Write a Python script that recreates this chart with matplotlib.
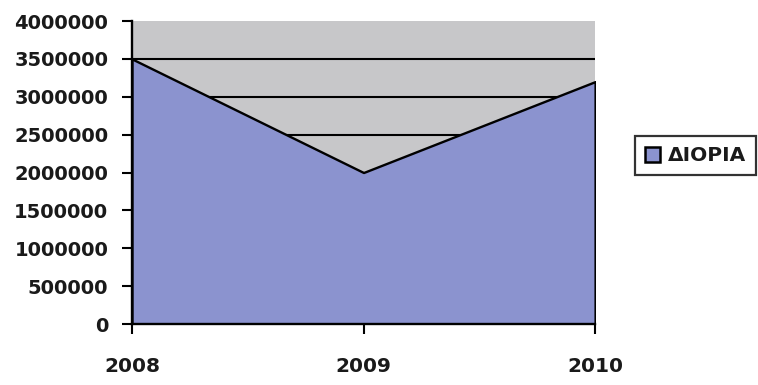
import matplotlib
matplotlib.use("Agg")
import matplotlib.pyplot as plt
from matplotlib.patches import Patch

# Series data
years = [2008, 2009, 2010]
dioria = [3500000, 2000000, 3200000]
series_name = "ΔΙΟΡΙΑ"
y_ticks = [0, 500000, 1000000, 1500000, 2000000, 2500000, 3000000, 3500000, 4000000]

area_color = "#8b93cf"
plot_bg = "#c7c7c9"

plt.rcParams["font.family"] = ["DejaVu Sans"]
plt.rcParams["font.weight"] = "bold"

fig = plt.figure(figsize=(7.58, 3.85), dpi=100)
fig.patch.set_facecolor("white")
ax = fig.add_axes([0.1741, 0.1584, 0.611, 0.787])
ax.set_facecolor(plot_bg)

# Horizontal gridlines (drawn beneath the area)
ax.hlines(y_ticks[1:-1], years[0], years[-1], colors="black", linewidth=1.5, zorder=1)

# Area with black outline
ax.fill_between(years, dioria, 0, facecolor=area_color, edgecolor="black",
                linewidth=1.7, zorder=2)

ax.set_xlim(years[0], years[-1])
ax.set_ylim(y_ticks[0], y_ticks[-1])
ax.set_xticks(years)
ax.set_xticklabels([str(y) for y in years])
ax.set_yticks(y_ticks)
ax.set_yticklabels([str(v) for v in y_ticks])

for side in ("top", "right"):
    ax.spines[side].set_visible(False)
for side in ("left", "bottom"):
    ax.spines[side].set_linewidth(1.7)
    ax.spines[side].set_color("black")
    ax.spines[side].set_zorder(3)

ax.tick_params(axis="y", direction="out", length=7, width=1.5, pad=10,
               labelsize=14, colors="black")
ax.tick_params(axis="x", direction="out", length=7, width=1.5, pad=17,
               labelsize=14.5, colors="black")
for lbl in ax.get_xticklabels() + ax.get_yticklabels():
    lbl.set_fontweight("bold")
    lbl.set_color("#1a1a1a")

handle = Patch(facecolor=area_color, edgecolor="black", linewidth=1.8)
leg = fig.legend([handle], [series_name], loc="center right",
                 bbox_to_anchor=(0.998, 0.595), frameon=True, fancybox=False,
                 edgecolor="black", fontsize=14.5, handlelength=0.75,
                 handleheight=0.75, handletextpad=0.4, borderpad=0.5,
                 borderaxespad=0)
leg.get_frame().set_linewidth(1.6)
for t in leg.get_texts():
    t.set_fontweight("bold")
    t.set_color("#1a1a1a")

fig.savefig("out.png", dpi=100, facecolor="white")
